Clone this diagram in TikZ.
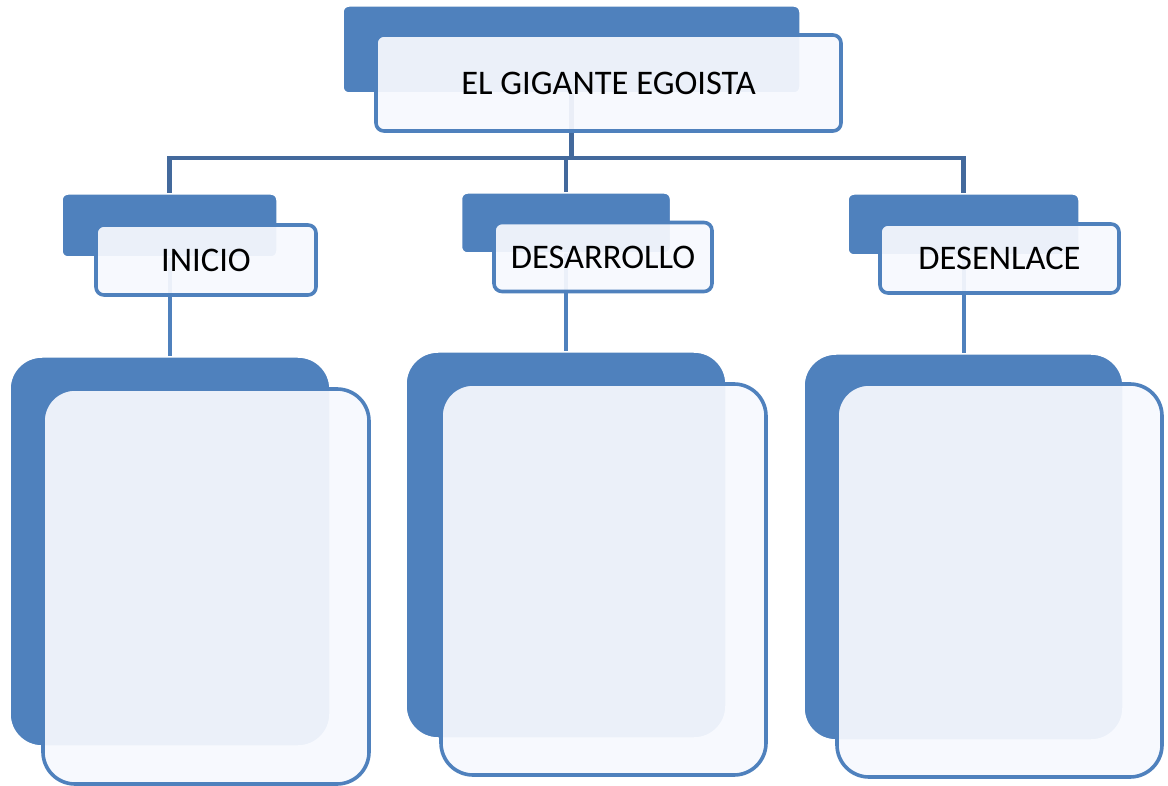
\documentclass[tikz,border=0pt]{standalone}
\usepackage{fontspec}
\setmainfont{Carlito}
\usetikzlibrary{backgrounds}
\definecolor{accent}{HTML}{4F81BD}
\definecolor{busline}{HTML}{43699C}
\definecolor{frontfill}{HTML}{F7F9FE}
\tikzset{
  backbox/.style={rectangle, fill=accent, draw=white, line width=1.5pt, inner sep=0pt, outer sep=0pt},
  frontbox/.style={rectangle, fill=frontfill, fill opacity=0.93, text opacity=1, draw=accent, draw opacity=1, line width=3.6pt, inner sep=0pt, outer sep=0pt, font=\fontsize{34.5}{41}\selectfont, text=black},
  smallr/.style={rounded corners=6pt},
  midr/.style={rounded corners=8pt},
  bigr/.style={rounded corners=32pt},
  busconn/.style={draw=busline, line width=4.5pt},
  subconn/.style={draw=accent, line width=4pt},
}
\begin{document}
\begin{tikzpicture}[x=1pt, y=-1pt]
% back boxes
\path
  node[backbox, smallr, minimum width=457pt, minimum height=87pt] (topB) at (571.5,49.5) {}
  node[backbox, smallr, minimum width=215pt, minimum height=63pt] (iniB) at (169.5,225.5) {}
  node[backbox, smallr, minimum width=209pt, minimum height=60pt] (desB) at (566,223) {}
  node[backbox, smallr, minimum width=231pt, minimum height=61pt] (fenB) at (963.5,224.5) {}
  node[backbox, bigr, minimum width=320pt, minimum height=389pt] (iniBB) at (170,551.5) {}
  node[backbox, bigr, minimum width=320pt, minimum height=386pt] (desBB) at (566,545) {}
  node[backbox, bigr, minimum width=319pt, minimum height=386pt] (fenBB) at (963.5,547) {};
% front boxes
\path
  node[frontbox, midr, minimum width=465pt, minimum height=96pt] (topF) at (608.5,83) {EL GIGANTE EGOISTA}
  node[frontbox, midr, minimum width=220pt, minimum height=70pt] (iniF) at (206,260) {INICIO}
  node[frontbox, midr, minimum width=218pt, minimum height=69pt] (desF) at (603,257) {DESARROLLO}
  node[frontbox, midr, minimum width=239pt, minimum height=69pt] (fenF) at (999.5,258.5) {DESENLACE}
  node[frontbox, bigr, minimum width=326pt, minimum height=395pt] (iniFF) at (206,586.5) {}
  node[frontbox, bigr, minimum width=325pt, minimum height=391pt] (desFF) at (603.5,579.5) {}
  node[frontbox, bigr, minimum width=325pt, minimum height=393pt] (fenFF) at (999.5,580.5) {};
\coordinate (bus) at (571.5,158);
\begin{scope}[on background layer]
  \fill[white] (0,0) rectangle (1168,786);
  \draw[busconn] (topB.south) -- (topB.south |- bus);
  \draw[busconn, line join=miter] (iniB.north) |- (fenB.north |- bus) -- (fenB.north);
  \draw[busconn] (desB.north) -- (desB.north |- bus);
  \draw[subconn] (iniB.south) -- (iniB.south |- iniBB.north);
  \draw[subconn] (desB.south) -- (desB.south |- desBB.north);
  \draw[subconn] (fenB.south) -- (fenB.south |- fenBB.north);
\end{scope}
\useasboundingbox (0,0) rectangle (1168,786);
\end{tikzpicture}
\end{document}
